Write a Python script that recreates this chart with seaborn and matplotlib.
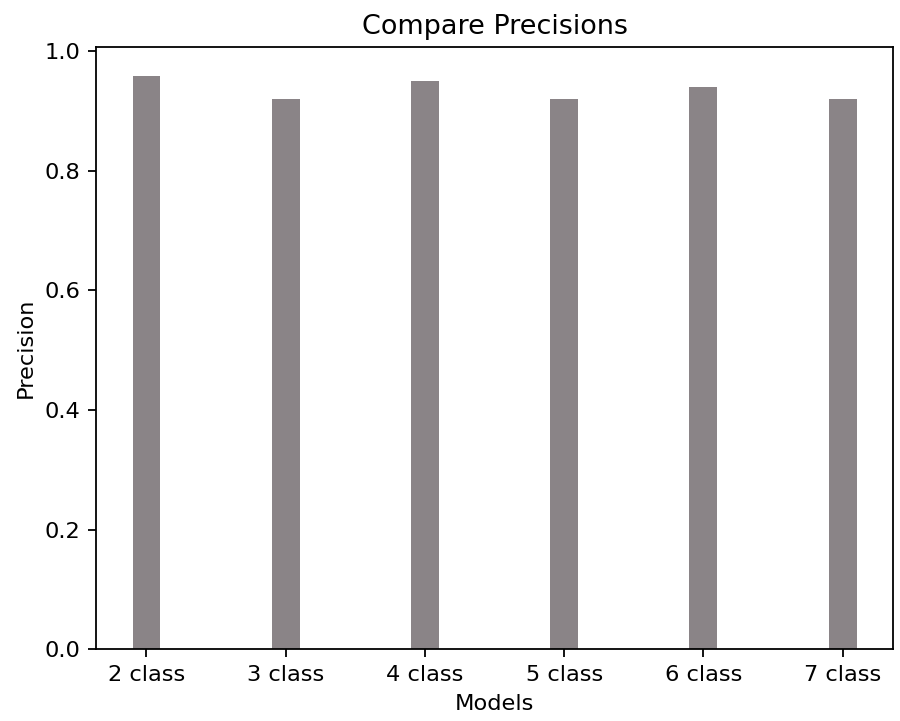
import numpy as np
import pandas as pd
import matplotlib
matplotlib.use("Agg")
import matplotlib.pyplot as plt
import seaborn as sns

models = ['2 class', '3 class', '4 class', '5 class', '6 class', '7 class']
precisions = [0.958, 0.92, 0.95, 0.92, 0.94, 0.92]

df = pd.DataFrame({'Models': models, 'Precision': precisions})

s = 1.62  # scale of the original figure

fig = plt.figure(figsize=(9, 7.21), dpi=100)
ax = fig.add_axes([0.107, 0.0995, 0.885, 0.835])

sns.barplot(data=df, x='Models', y='Precision', color='#8a8487',
            saturation=1, width=0.2, ax=ax)

# mimic plain matplotlib bar margins
ax.set_xlim(-0.36, 5.36)
ax.set_ylim(0, 1.006)
ax.set_yticks([0.0, 0.2, 0.4, 0.6, 0.8, 1.0])
ax.tick_params(labelsize=10 * s, length=3.5 * s, width=0.8 * s, pad=3.5 * s)
for sp in ax.spines.values():
    sp.set_linewidth(0.8 * s)
ax.set_xlabel('Models', fontsize=10 * s, labelpad=4 * s)
ax.set_ylabel('Precision', fontsize=10 * s, labelpad=4 * s)
ax.set_title('Compare Precisions', fontsize=12 * s, pad=6 * s)

fig.savefig('out.png', dpi=100)
